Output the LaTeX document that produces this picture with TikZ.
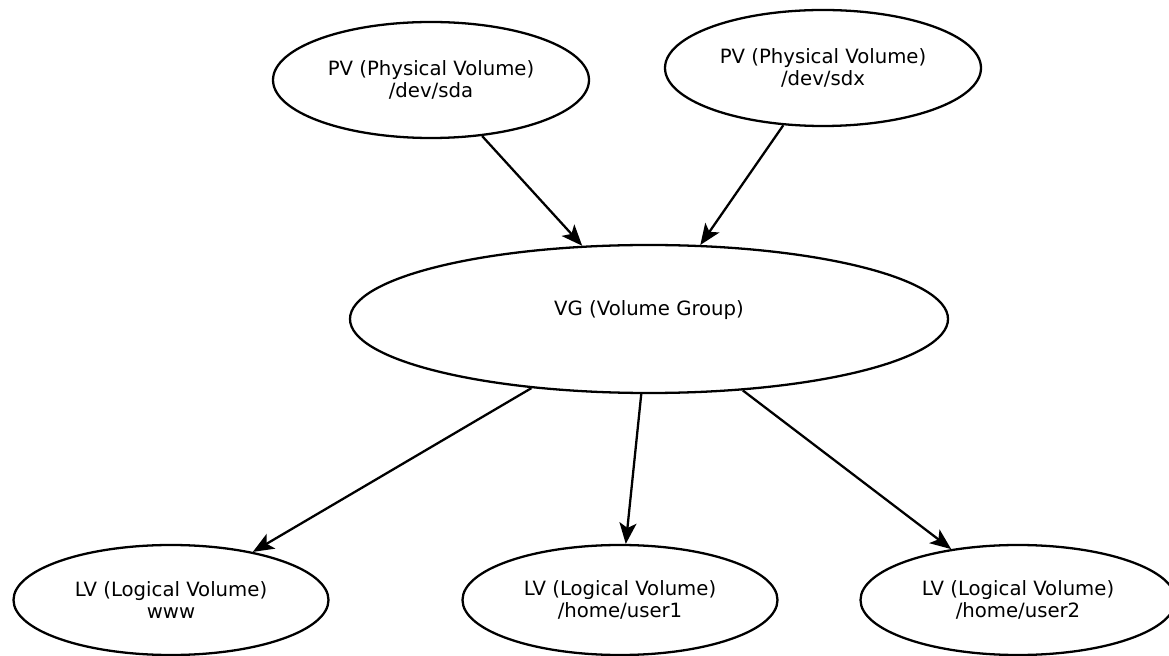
\documentclass[tikz,border=0pt]{standalone}
\usepackage{fontspec}
\setmainfont{DejaVu Sans}
\usetikzlibrary{arrows.meta, shapes.geometric}

\begin{document}
\begin{tikzpicture}[
    vol/.style={draw, ellipse, line width=1.3pt, align=center, inner sep=0pt,
        font=\fontsize{11.2}{13}\selectfont},
    pvol/.style={vol, minimum width=6.32cm, minimum height=2.32cm},
    vgroup/.style={vol, minimum width=11.96cm, minimum height=2.96cm},
    lvol/.style={vol, minimum width=6.3cm, minimum height=2.2cm},
    link/.style={-{Stealth[length=0.42cm,width=0.34cm,inset=0.1cm]}, line width=1.3pt}
]
\useasboundingbox (0,0) rectangle (23.38,13.1);
% physical volumes
\node[pvol] (sda) at (8.62,11.5) {PV (Physical Volume)\\/dev/sda};
\node[pvol] (sdx) at (16.46,11.74) {PV (Physical Volume)\\/dev/sdx};
% volume group
\node[vgroup] (vg) at (12.98,6.72) {VG (Volume Group)\\\mbox{}};
% logical volumes
\node[lvol] (www) at (3.42,1.1) {LV (Logical Volume)\\www};
\node[lvol] (user1) at (12.4,1.1) {LV (Logical Volume)\\/home/user1};
\node[lvol] (user2) at (20.36,1.1) {LV (Logical Volume)\\/home/user2};
\draw[link] (sda) -- (vg);
\draw[link] (sdx) -- (vg);
\foreach \lv in {www,user1,user2} {
    \draw[link] (vg) -- (\lv);
}
\end{tikzpicture}
\end{document}
